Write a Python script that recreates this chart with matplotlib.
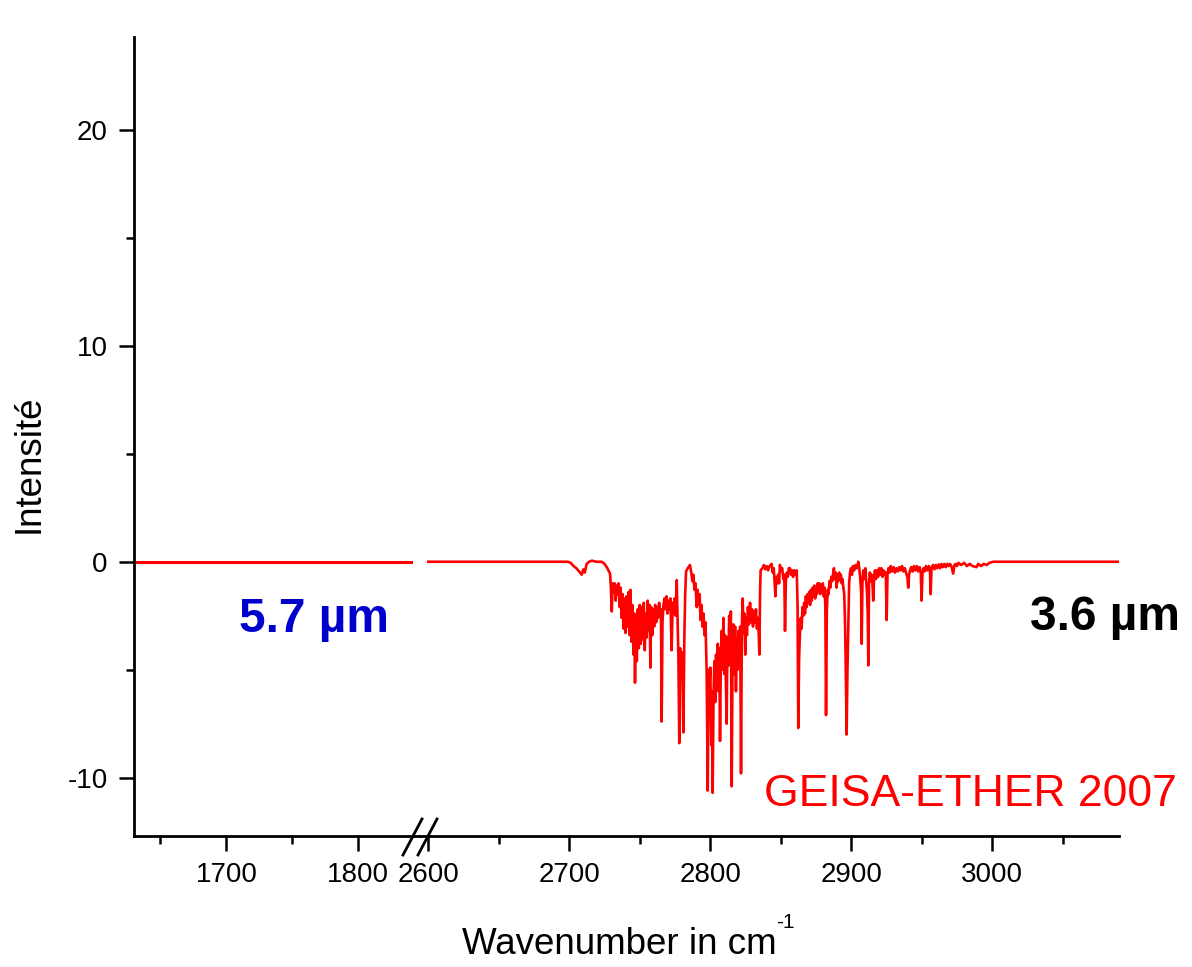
import matplotlib
matplotlib.use("Agg")
import matplotlib.pyplot as plt
from matplotlib.ticker import MultipleLocator
from matplotlib.lines import Line2D

plt.rcParams['font.family'] = ['Liberation Sans', 'DejaVu Sans']
plt.rcParams['axes.unicode_minus'] = False

# spectre GEISA-ETHER 2007
wn_left = [1630, 1840]
int_left = [0.0, 0.0]

# 2600 - 2730
wn_a = [2600, 2699, 2701, 2703, 2705, 2707, 2708.8, 2710, 2711, 2712.3,
        2714, 2716, 2719, 2723, 2725, 2727, 2728.9, 2729.5]
int_a = [0, 0, -0.05, -0.2, -0.3, -0.45, -0.6, -0.35, -0.5, -0.1,
         0.0, 0.05, 0.0, 0.0, -0.1, -0.3, -0.55, -1.2]

# 2730 - 2783
wn_b = [2730.1, 2730.8, 2731.5, 2732.2, 2732.9, 2733.6, 2734.3, 2735, 2735.7, 2736.4,
        2737.1, 2737.8, 2738.5, 2739.2, 2739.9, 2740.6, 2741.3, 2742, 2742.7, 2743.4,
        2744.1, 2744.8, 2745.5, 2746.1, 2746.6, 2747.2, 2747.9, 2748.6, 2749.3, 2750,
        2750.7, 2751.4, 2752.1, 2752.8, 2753.5, 2754.2, 2754.9, 2755.6, 2756.3, 2757,
        2757.5, 2758.1, 2758.8, 2759.5, 2760.2, 2760.9, 2761.6, 2762.3, 2763, 2763.7,
        2764.4, 2765, 2765.5, 2766.1, 2766.8, 2767.5, 2768.2, 2768.9, 2769.6, 2770.3,
        2771, 2771.7, 2772.6, 2773.3, 2774, 2774.7, 2775.4, 2776.2, 2776.8, 2777.4,
        2778, 2778.6, 2779.3, 2780, 2780.9, 2781.6, 2782.2, 2782.8]
int_b = [-2.3, -1.0, -1.4, -1.0, -1.8, -1.1, -1.5, -1.0, -2.1, -1.2,
         -2.6, -1.5, -3.1, -1.7, -3.3, -1.6, -3.0, -1.4, -3.4, -1.3,
         -3.7, -2.0, -4.3, -2.4, -5.6, -2.6, -4.6, -2.2, -4.0, -2.0,
         -3.8, -2.1, -3.6, -1.9, -4.1, -2.4, -3.5, -1.8, -3.2, -2.0,
         -4.9, -2.1, -3.4, -2.2, -3.0, -2.0, -2.8, -2.1, -2.6, -1.9,
         -2.5, -2.2, -7.4, -2.8, -2.0, -1.7, -2.2, -1.6, -2.4, -1.8,
         -2.2, -1.7, -4.1, -1.9, -2.4, -1.7, -2.5, -0.85, -2.8, -4.5,
         -8.4, -4.0, -5.5, -4.2, -7.9, -3.5, -1.5, -0.45]

# 2784 - 2836
wn_c = [2784, 2785.6, 2786.5, 2787.3, 2788, 2788.8, 2789.5, 2790.4, 2791, 2791.7,
        2792.4, 2793.1, 2793.8, 2794.5, 2795.2, 2795.9, 2796.6, 2797.4, 2798.2, 2798.8,
        2799.4, 2800, 2800.7, 2801.2, 2801.7, 2802.3, 2802.9, 2803.5, 2804.1, 2804.7,
        2805.3, 2805.9, 2806.4, 2806.9, 2807.5, 2808.1, 2808.7, 2809.3, 2809.9, 2810.5,
        2811.1, 2811.6, 2812.2, 2812.8, 2813.4, 2814, 2814.6, 2815.2, 2815.8, 2816.4,
        2817, 2817.6, 2818.2, 2818.8, 2819.4, 2820, 2820.6, 2821.2, 2821.8, 2822.4,
        2823, 2823.6, 2824.2, 2824.8, 2825.4, 2826, 2826.7, 2827.4, 2828.2, 2828.9,
        2829.6, 2830.3, 2831, 2831.7, 2832.4, 2833.1, 2833.8, 2834.4, 2834.8, 2835.3,
        2835.7]
int_c = [-0.3, -0.15, -0.5, -0.9, -0.6, -1.3, -1.0, -2.1, -1.3, -2.0,
         -1.5, -2.7, -2.0, -3.0, -2.4, -3.4, -2.8, -5.0, -10.6, -5.0,
         -5.8, -4.9, -8.5, -6.0, -10.7, -6.2, -4.6, -6.5, -4.3, -5.9,
         -3.8, -6.0, -4.0, -8.3, -4.4, -3.2, -5.0, -2.6, -5.2, -3.4,
         -5.8, -7.5, -3.5, -4.8, -2.5, -3.9, -2.3, -10.4, -4.4, -2.9,
         -5.2, -3.0, -6.0, -3.5, -5.0, -3.2, -4.8, -3.0, -9.8, -3.0,
         -1.7, -3.3, -2.4, -4.3, -2.6, -3.4, -2.1, -2.9, -1.9, -2.8,
         -2.2, -3.0, -2.3, -2.8, -2.2, -3.1, -2.6, -3.4, -4.3, -1.5,
         -0.4]

# 2837 - 2905
wn_d = [2837, 2838, 2839, 2840, 2841, 2842, 2843.5, 2844.3, 2845, 2845.6,
        2846.2, 2846.8, 2847.5, 2848.2, 2848.8, 2849.4, 2850.2, 2851, 2851.8, 2852.5,
        2853, 2853.6, 2854.3, 2855, 2855.7, 2856.5, 2857.3, 2858, 2858.7, 2859.5,
        2860.3, 2861.3, 2861.9, 2862.4, 2863, 2863.6, 2864.2, 2864.8, 2865.4, 2866,
        2866.6, 2867.2, 2867.8, 2868.4, 2869, 2869.6, 2870.2, 2870.8, 2871.4, 2872,
        2872.6, 2873.2, 2873.8, 2874.4, 2875, 2875.6, 2876.2, 2876.8, 2877.4, 2878,
        2878.6, 2879.2, 2879.8, 2880.4, 2881, 2881.6, 2882.1, 2882.7, 2883.3, 2883.9,
        2884.5, 2885.1, 2885.8, 2886.5, 2887.2, 2887.7, 2888.3, 2889, 2889.6, 2890.2,
        2890.8, 2891.4, 2892, 2892.6, 2893.2, 2893.8, 2894.4, 2895, 2895.5, 2896,
        2896.7, 2897.3, 2897.9, 2898.5, 2899.1, 2899.8, 2900.5, 2901.2, 2902, 2903,
        2904, 2905]
int_d = [-0.3, -0.15, -0.35, -0.2, -0.4, -0.2, -0.1, -0.5, -0.3, -0.9,
         -1.6, -0.7, -1.0, -0.6, -1.0, -0.15, -0.4, -0.3, -0.8, -0.6,
         -3.2, -0.9, -0.5, -0.7, -0.3, -0.3, -0.6, -0.4, -0.7, -0.4,
         -0.6, -0.4, -2.0, -7.7, -4.5, -3.3, -2.6, -3.1, -2.1, -2.5,
         -1.9, -2.4, -1.6, -2.1, -1.5, -1.9, -1.4, -2.0, -1.3, -1.8,
         -1.2, -1.6, -1.1, -1.7, -1.2, -1.5, -1.0, -1.4, -1.0, -1.5,
         -1.1, -1.4, -1.0, -1.6, -1.2, -2.0, -7.1, -2.2, -1.3, -1.5,
         -0.9, -1.2, -0.7, -0.9, -0.5, -0.3, -0.8, -0.5, -1.2, -0.6,
         -0.9, -0.5, -0.8, -0.6, -1.0, -0.8, -1.2, -1.5, -2.6, -4.5,
         -8.0, -5.0, -3.0, -1.0, -0.5, -0.3, -0.6, -0.2, -0.4, -0.15,
         -0.3, 0.0]

# 2906 - 3090
wn_e = [2905.7, 2906.4, 2907, 2907.4, 2907.9, 2908.5, 2909.2, 2910, 2910.6, 2911.2,
        2911.7, 2912.1, 2912.6, 2913.2, 2913.8, 2914.4, 2915, 2915.6, 2916.2, 2916.8,
        2917.5, 2918.2, 2919, 2919.8, 2920.6, 2921.4, 2922.2, 2923, 2923.8, 2924.5,
        2925.1, 2925.7, 2926.4, 2927.2, 2928, 2929, 2930, 2931, 2932, 2933,
        2934, 2935, 2936, 2937, 2938, 2939, 2939.8, 2940.4, 2941, 2941.7,
        2942.5, 2943.5, 2944.5, 2945.5, 2946.5, 2947.5, 2948.5, 2949.3, 2949.9, 2950.5,
        2951.3, 2952, 2953, 2954, 2955, 2955.8, 2956.3, 2956.9, 2958, 2959,
        2960, 2961, 2962, 2963, 2964, 2965, 2966, 2967, 2968, 2969,
        2970, 2971, 2972.3, 2973.2, 2974, 2975, 2976, 2978, 2980, 2982,
        2984, 2986, 2988.9, 2990, 2992, 2994, 2996, 2998, 3000.7, 3090]
int_e = [-0.3, -0.8, -1.4, -3.8, -1.0, -0.4, -0.8, -0.3, -0.9, -1.5,
         -2.5, -4.8, -1.0, -0.5, -0.9, -0.6, -1.0, -1.8, -0.7, -0.4,
         -0.8, -0.4, -0.7, -0.3, -0.6, -0.3, -0.7, -0.4, -0.6, -0.5,
         -2.7, -0.6, -0.3, -0.5, -0.2, -0.45, -0.25, -0.5, -0.3, -0.45,
         -0.25, -0.4, -0.2, -0.45, -0.3, -0.55, -0.7, -1.2, -0.6, -0.4,
         -0.25, -0.45, -0.2, -0.4, -0.2, -0.45, -0.25, -0.5, -1.8, -0.5,
         -0.3, -0.45, -0.2, -0.4, -0.2, -0.4, -1.5, -0.3, -0.15, -0.35,
         -0.15, -0.3, -0.12, -0.3, -0.1, -0.25, -0.1, -0.25, -0.1, -0.2,
         -0.1, -0.2, -0.55, -0.15, -0.1, -0.2, -0.05, -0.15, -0.05, -0.2,
         -0.1, -0.2, -0.25, -0.1, -0.2, -0.1, -0.15, -0.05, 0.0, 0.0]

wn_right = wn_a + wn_b + wn_c + wn_d + wn_e
int_right = int_a + int_b + int_c + int_d + int_e

W, H = 1192, 967
fig = plt.figure(figsize=(W / 100, H / 100), dpi=100)

bottom = 1 - 836 / H
height = (836 - 37) / H
ax1 = fig.add_axes([134 / W, bottom, 286 / W, height])
ax2 = fig.add_axes([420 / W, bottom, 699 / W, height])

for ax in (ax1, ax2):
    ax.set_ylim(-12.7, 24.3)
    ax.spines['top'].set_visible(False)
    ax.spines['right'].set_visible(False)
    ax.spines['bottom'].set_linewidth(2.0)
    ax.spines['left'].set_linewidth(2.0)
    ax.xaxis.set_major_locator(MultipleLocator(100))
    ax.xaxis.set_minor_locator(MultipleLocator(50))
    ax.tick_params(which='major', direction='out', length=11, width=1.8,
                   labelsize=20, pad=8)
    ax.tick_params(which='minor', direction='out', length=5.5, width=1.8)

ax1.plot(wn_left, int_left, color='#ff0000', lw=2.2)
ax1.set_xlim(1630, 1846.7)
ax1.yaxis.set_major_locator(MultipleLocator(10))
ax1.yaxis.set_minor_locator(MultipleLocator(5))
ax1.set_ylabel('Intensité', fontsize=26.5)
ax1.yaxis.set_label_coords(-0.305, 0.466)

ax2.plot(wn_right, int_right, color='#ff0000', lw=1.9)
ax2.set_xlim(2594.1, 3089.9)
ax2.spines['left'].set_visible(False)
ax2.tick_params(axis='y', which='both', left=False, labelleft=False)

# marques de coupure //
for x0 in (403, 418):
    fig.add_artist(Line2D([x0 / W, (x0 + 19) / W], [1 - 855 / H, 1 - 819 / H],
                          transform=fig.transFigure, color='black', lw=2.0))

fig.text(462 / W, 1 - 944 / H, 'Wavenumber in cm', fontsize=26.5,
         ha='left', va='center')
fig.text(776 / W, 1 - 922 / H, '-1', fontsize=15, ha='left', va='center')
fig.text(314 / W, 1 - 620 / H, '5.7 µm', fontsize=34.5, fontweight='bold',
         color='#0000cc', ha='center', va='center')
fig.text(1105 / W, 1 - 617 / H, '3.6 µm', fontsize=34.5, fontweight='bold',
         color='black', ha='center', va='center')
fig.text(970 / W, 1 - 795 / H, 'GEISA-ETHER 2007', fontsize=32,
         color='#ff0000', ha='center', va='center')

fig.savefig('out.png', dpi=100)
